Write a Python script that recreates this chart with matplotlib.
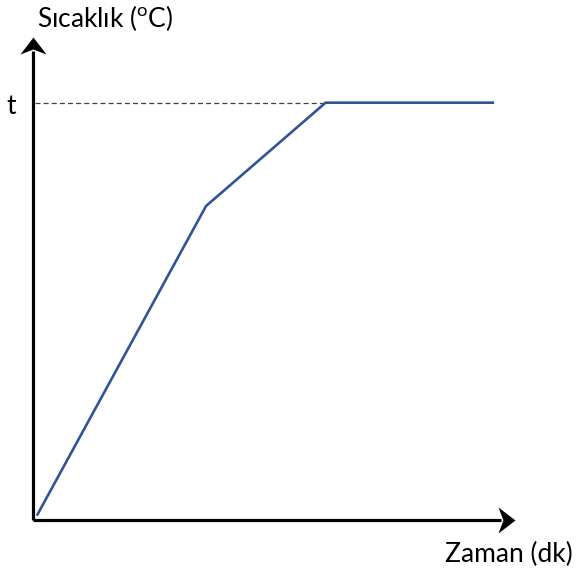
import matplotlib.pyplot as plt
from matplotlib.path import Path

plt.rcParams['font.family'] = ['Lato', 'DejaVu Sans']
plt.rcParams['mathtext.fontset'] = 'custom'
plt.rcParams['mathtext.rm'] = 'Lato'

# time and temperature (arbitrary units, axis runs 0..100)
zaman    = [0.93, 35.9, 60.7, 95.4]
sicaklik = [1.14, 65.0, 86.4, 86.4]
t_level  = 86.4
t_label  = 't'
x_label  = 'Zaman (dk)'
y_label  = r'Sıcaklık ($^{\mathrm{o}}$C)'

W, H = 578, 571
fig = plt.figure(figsize=(W/100, H/100), dpi=100)
# origin at pixel (33, 520), x tip at 515, y tip at 37
ax = fig.add_axes([33/W, (H-520)/H, 482/W, 483/H])
ax.set_xlim(0, 100)
ax.set_ylim(0, 100)
ax.axis('off')

# axes shafts
ax.plot([0, 97], [0, 0], color='black', lw=2.3, solid_capstyle='butt', clip_on=False)
ax.plot([0, 0], [0, 97], color='black', lw=2.3, solid_capstyle='butt', clip_on=False)
# stealth-like arrow heads
head_x = Path([(0, 0), (-17, 13), (-12, 0), (-17, -13), (0, 0)],
              [Path.MOVETO, Path.LINETO, Path.LINETO, Path.LINETO, Path.CLOSEPOLY])
head_y = Path([(0, 0), (13, -17), (0, -12), (-13, -17), (0, 0)],
              [Path.MOVETO, Path.LINETO, Path.LINETO, Path.LINETO, Path.CLOSEPOLY])
ax.plot([100], [0], marker=head_x, ms=24.5, color='black', mew=0, clip_on=False)
ax.plot([0], [100], marker=head_y, ms=24.5, color='black', mew=0, clip_on=False)

# dashed guide to t
ax.plot([0.4, zaman[2]], [t_level, t_level], ls=(0, (4, 2.5)), color='#404040', lw=0.9)
ax.plot(zaman, sicaklik, color='#2F5597', lw=1.9, solid_joinstyle='miter',
        clip_on=False)

fig.text(16/W, 1 - 114/H, t_label, fontsize=19, ha='right', va='baseline')
fig.text(37/W, 1 - 27/H, y_label, fontsize=19, ha='left', va='baseline')
fig.text(573/W, 1 - 562/H, x_label, fontsize=19, ha='right', va='baseline')

fig.savefig('out.png', dpi=100)
